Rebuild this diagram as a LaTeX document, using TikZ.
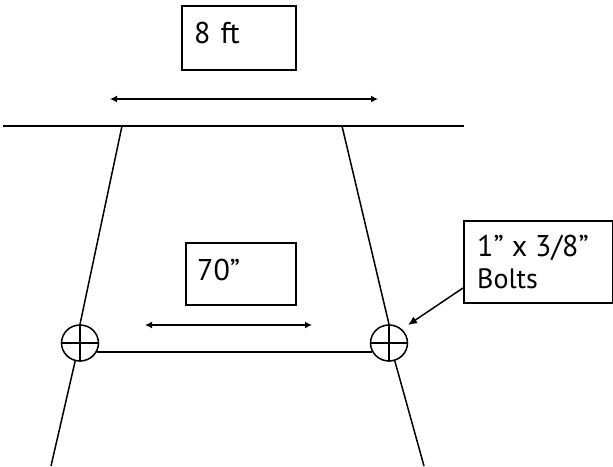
\documentclass[tikz,border=0pt]{standalone}
\usepackage{fontspec}
\setmainfont{PT Sans}
\usetikzlibrary{shapes.geometric,arrows.meta}
\tikzset{
  line/.style={draw=black,line width=1.5pt},
  dim/.style={line,{Latex[length=7pt,width=7pt]}-{Latex[length=7pt,width=7pt]}},
  pointer/.style={line,-{Latex[length=9pt,width=8pt]}},
  frame/.style={draw=black,line width=1.5pt,fill=white,rectangle,anchor=north west,inner sep=0pt},
  boltmark/.style={draw=black,line width=1.5pt,ellipse,inner sep=0pt,minimum width=37pt,minimum height=36pt},
  lab/.style={anchor=base west,inner sep=0pt,font=\fontsize{30}{34}\selectfont,align=left},
}
\begin{document}
\begin{tikzpicture}[x=1pt,y=-1pt]
\useasboundingbox (0,0) rectangle (613,466);
% boxes
\node[frame,minimum width=114pt,minimum height=64pt] (boxa) at (181,5) {};
\node[lab] (txta) at (194,43) {8 \kern2pt ft};
\node[frame,minimum width=110pt,minimum height=62pt] (boxb) at (185,242) {};
\node[lab] (txtb) at (197,280) {70”};
\node[frame,minimum width=149pt,minimum height=82pt] (boxc) at (463,220) {};
\node[lab] (txtc) at (477,256) {1” x 3/8”};
\node[lab] (txtd) at (477,288) {\fontsize{28}{34}\selectfont Bolts};
% beam
\coordinate (beamL) at (3,126);
\coordinate (beamR) at (464,126);
\draw[line] (beamL) -- (beamR);
% bolts
\node[boltmark] (boltL) at (80,343) {};
\node[boltmark] (boltR) at (389,343) {};
\draw[line] (boltL.north) -- (boltL.south) (boltL.west) -- (boltL.east);
\draw[line] (boltR.north) -- (boltR.south) (boltR.west) -- (boltR.east);
% legs
\coordinate (topL) at (122,126);
\coordinate (topR) at (342,126);
\coordinate (footL) at (51,466);
\coordinate (footR) at (424,466);
\draw[line] (topL) -- (boltL.north);
\draw[line] (topR) -- (boltR.north);
\draw[line] (boltL.-105) -- (footL);
\draw[line] (boltR.-72) -- (footR);
\coordinate (railY) at (0,352);
\draw[line] (boltL.-27 |- railY) -- (boltR.207 |- railY);
% dimensions
\coordinate (da1) at (110,99);
\coordinate (da2) at (378,99);
\draw[dim] (da1) -- (da2);
\coordinate (db1) at (145,325);
\coordinate (db2) at (312,325);
\draw[dim] (db1) -- (db2);
% pointer
\coordinate (ptr) at (408,325);
\draw[pointer] (boxc.south west |- 0,288) -- (ptr);
\end{tikzpicture}
\end{document}
